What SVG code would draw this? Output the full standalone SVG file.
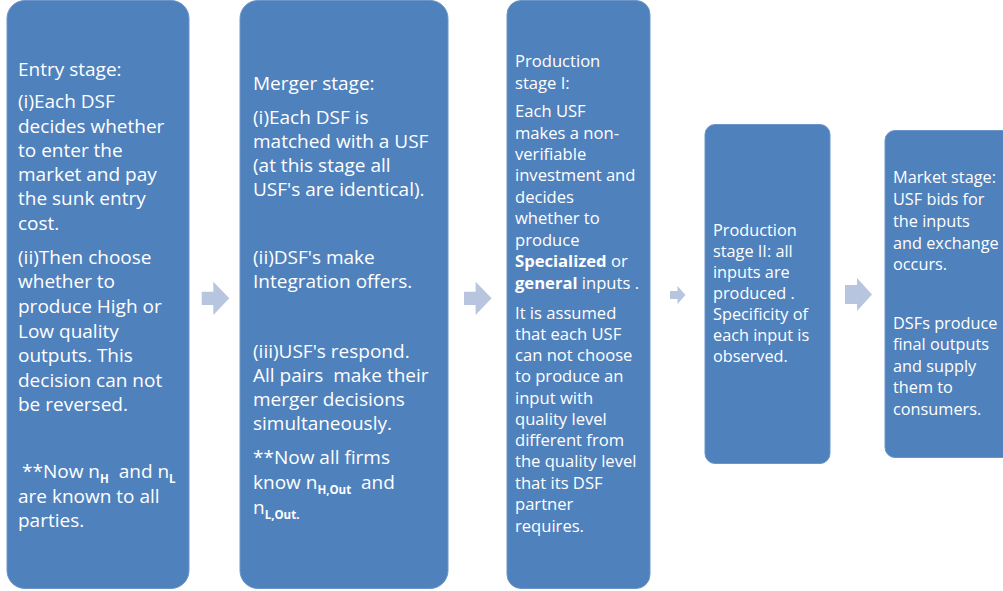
<svg xmlns="http://www.w3.org/2000/svg" width="1003" height="591" viewBox="0 0 1003 591">
  <style>
    .box { fill: #4F81BD; stroke: #6C95C8; stroke-width: 1; }
    .arrow { fill: #B7C5DF; }
    text { font-family: "Open Sans", "Liberation Sans", sans-serif; fill: #FFFFFF; }
    .t1 { font-size: 19px; }
    .t2 { font-size: 16.6px; }
    .t3 { font-size: 16.3px; }
    .sub { font-size: 11.5px; font-weight: bold; }
    .b { font-weight: bold; }
  </style>
  <rect width="1003" height="591" fill="#FFFFFF"/>

  <!-- flow arrows between stages -->
  <g id="connectors">
    <path class="arrow" d="M201.7,291.7 H213.3 V281.7 L229.3,298.3 L213.3,315 V305 H201.7 Z"/>
    <path class="arrow" d="M464,291.7 H475.6 V281.7 L491.6,298.3 L475.6,315 V305 H464 Z"/>
    <path class="arrow" d="M670,291 H677.5 V286 L685.5,295 L677.5,304 V299 H670 Z"/>
    <path class="arrow" d="M845,285 H857 V278 L872,294.5 L857,311 V304 H845 Z"/>
  </g>

  <g id="entry-stage">
    <rect class="box" x="7" y="0.5" width="182" height="588" rx="18"/>
    <text class="t1">
      <tspan x="18" y="76">Entry stage:</tspan>
      <tspan x="18" y="108">(i)Each DSF</tspan>
      <tspan x="18" y="133">decides whether</tspan>
      <tspan x="18" y="157">to enter the</tspan>
      <tspan x="18" y="181">market and pay</tspan>
      <tspan x="18" y="205">the sunk entry</tspan>
      <tspan x="18" y="230">cost.</tspan>
      <tspan x="18" y="264">(ii)Then choose</tspan>
      <tspan x="18" y="288">whether to</tspan>
      <tspan x="18" y="313">produce High or</tspan>
      <tspan x="18" y="338">Low quality</tspan>
      <tspan x="18" y="362">outputs. This</tspan>
      <tspan x="18" y="387">decision can not</tspan>
      <tspan x="18" y="411">be reversed.</tspan>
    </text>
    <text class="t1" x="22" y="478" xml:space="preserve">**Now n<tspan class="sub" dy="5">H</tspan><tspan dy="-5">  and n</tspan><tspan class="sub" dy="5">L</tspan></text>
    <text class="t1" x="18" y="503">are known to all</text>
    <text class="t1" x="18" y="527">parties.</text>
  </g>

  <g id="merger-stage">
    <rect class="box" x="240" y="0.5" width="208" height="588" rx="18"/>
    <text class="t1">
      <tspan x="253" y="90">Merger stage:</tspan>
      <tspan x="253" y="124">(i)Each DSF is</tspan>
      <tspan x="253" y="148">matched with a USF</tspan>
      <tspan x="253" y="172">(at this stage all</tspan>
      <tspan x="253" y="196">USF's are identical).</tspan>
      <tspan x="253" y="264">(ii)DSF's make</tspan>
      <tspan x="253" y="288">Integration offers.</tspan>
      <tspan x="253" y="358">(iii)USF's respond.</tspan>
      <tspan x="253" y="382" xml:space="preserve">All pairs  make their</tspan>
      <tspan x="253" y="406">merger decisions</tspan>
      <tspan x="253" y="430">simultaneously.</tspan>
      <tspan x="253" y="464">**Now all firms</tspan>
    </text>
    <text class="t1" x="253" y="489" xml:space="preserve">know n<tspan class="sub" dy="5">H,Out</tspan><tspan dy="-5">  and</tspan></text>
    <text class="t1" x="253" y="514">n<tspan class="sub" dy="5">L,Out</tspan><tspan class="sub">.</tspan></text>
  </g>

  <g id="production-stage-1">
    <rect class="box" x="507" y="0.5" width="143" height="588" rx="14"/>
    <text class="t2">
      <tspan x="515" y="67">Production</tspan>
      <tspan x="515" y="89">stage I:</tspan>
      <tspan x="515" y="117">Each USF</tspan>
      <tspan x="515" y="139">makes a non-</tspan>
      <tspan x="515" y="160">verifiable</tspan>
      <tspan x="515" y="181">investment and</tspan>
      <tspan x="515" y="203">decides</tspan>
      <tspan x="515" y="224">whether to</tspan>
      <tspan x="515" y="246">produce</tspan>
      <tspan x="515" y="267"><tspan class="b">Specialized</tspan> or</tspan>
      <tspan x="515" y="289"><tspan class="b">general</tspan> inputs .</tspan>
      <tspan x="515" y="319">It is assumed</tspan>
      <tspan x="515" y="340">that each USF</tspan>
      <tspan x="515" y="361">can not choose</tspan>
      <tspan x="515" y="382">to produce an</tspan>
      <tspan x="515" y="404">input with</tspan>
      <tspan x="515" y="425">quality level</tspan>
      <tspan x="515" y="446">different from</tspan>
      <tspan x="515" y="467">the quality level</tspan>
      <tspan x="515" y="489">that its DSF</tspan>
      <tspan x="515" y="510">partner</tspan>
      <tspan x="515" y="532">requires.</tspan>
    </text>
  </g>

  <g id="production-stage-2">
    <rect class="box" x="705" y="124.5" width="125" height="339" rx="10"/>
    <text class="t3">
      <tspan x="713" y="236">Production</tspan>
      <tspan x="713" y="257">stage II: all</tspan>
      <tspan x="713" y="278">inputs are</tspan>
      <tspan x="713" y="299">produced .</tspan>
      <tspan x="713" y="320">Specificity of</tspan>
      <tspan x="713" y="341">each input is</tspan>
      <tspan x="713" y="362">observed.</tspan>
    </text>
  </g>

  <g id="market-stage">
    <rect class="box" x="885" y="130.5" width="140" height="327" rx="10"/>
    <text class="t3">
      <tspan x="893" y="183">Market stage:</tspan>
      <tspan x="893" y="205">USF bids for</tspan>
      <tspan x="893" y="227">the inputs</tspan>
      <tspan x="893" y="249">and exchange</tspan>
      <tspan x="893" y="270">occurs.</tspan>
      <tspan x="893" y="329">DSFs produce</tspan>
      <tspan x="893" y="350">final outputs</tspan>
      <tspan x="893" y="372">and supply</tspan>
      <tspan x="893" y="393">them to</tspan>
      <tspan x="893" y="415">consumers.</tspan>
    </text>
  </g>
</svg>
